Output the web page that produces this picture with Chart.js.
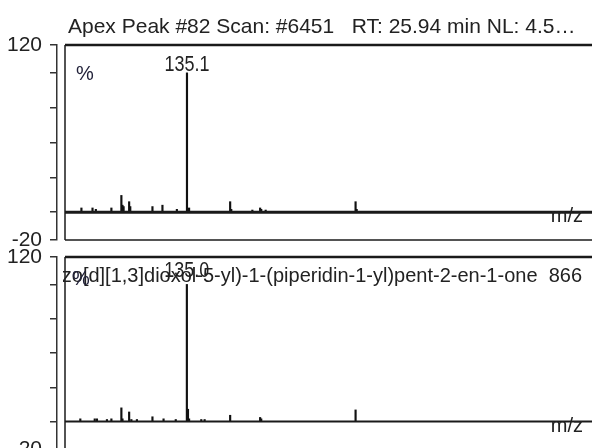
<!DOCTYPE html>
<html>
<head>
<meta charset="utf-8">
<script src="https://cdn.jsdelivr.net/npm/chart.js@4.4.1/dist/chart.umd.min.js"></script>
<style>
  html, body { margin: 0; padding: 0; background: #fff; overflow: hidden; }
  body { width: 592px; height: 448px; position: relative; }
  .panel { position: absolute; left: 0; width: 592px; }
  #top-panel { top: 0; }
  #bottom-panel { top: 246px; }
</style>
</head>
<body>
<div class="panel" id="top-panel"><canvas id="top-chart" width="592" height="250"></canvas></div>
<div class="panel" id="bottom-panel"><canvas id="bottom-chart" width="592" height="214"></canvas></div>
<script>
// Measured spectrum (top) and library spectrum (bottom)
const topMz = [40, 50, 53, 67, 76, 77, 78, 83, 84, 104, 113, 126, 135.1, 137, 174, 175, 194, 201, 202, 206, 287, 288];
const topIntensity = [3, 3, 2, 3, 12, 5, 4, 7.5, 4, 4, 5, 2, 100, 3, 7.5, 2, 1.5, 3, 2, 1.5, 7.5, 2];

const bottomMz = [39, 52, 54, 63, 67, 76, 77, 83, 85, 90, 104, 114, 125, 135.0, 136, 137, 148, 151, 174, 201, 202, 287];
const bottomIntensity = [2, 2, 2, 1.5, 2, 10, 2, 7, 1.5, 1.5, 3.5, 2, 1.5, 100, 9, 2, 1.5, 1.5, 4.6, 3, 2, 8.5];

const yTicks = [120, 100, 75, 50, 25, 0, -20];
const yLabels = [120, -20];

const topHeader = 'Apex Peak #82 Scan: #6451   RT: 25.94 min NL: 4.5…';
const bottomHeader = '5-(benzo[d][1,3]dioxol-5-yl)-1-(piperidin-1-yl)pent-2-en-1-one  866';
const topPeakLabel = '135.1';
const bottomPeakLabel = '135.0';

const FONT = '"Liberation Sans", Arial, sans-serif';
const INK = '#1a1a1a';

// Frame, baseline and annotations drawn on top of the bars
const decor = (cfg) => ({
  id: 'decor',
  afterDatasetsDraw(chart) {
    const { ctx, chartArea: a, scales: { x, y } } = chart;
    const left = a.left + 8;
    const yTop = y.getPixelForValue(120);
    const yBot = y.getPixelForValue(-20);
    const yZero = y.getPixelForValue(0);

    const line = (x1, y1, x2, y2, w) => {
      ctx.lineWidth = w;
      ctx.beginPath();
      ctx.moveTo(x1, y1);
      ctx.lineTo(x2, y2);
      ctx.stroke();
    };

    ctx.save();
    ctx.strokeStyle = INK;
    line(left, yTop, a.right, yTop, 2.5);
    line(left, yTop, left, yBot, 1.5);
    line(left, yBot, a.right, yBot, 1.5);
    line(left, yZero, a.right, yZero, cfg.baseWidth);

    ctx.fillStyle = '#222';
    ctx.textBaseline = 'alphabetic';

    // header
    ctx.save();
    ctx.beginPath();
    ctx.rect(left - 2, 0, a.right - left + 2, chart.height);
    ctx.clip();
    ctx.font = `${cfg.headerSize}px ${FONT}`;
    ctx.textAlign = cfg.headerAlign;
    if (cfg.headerAlign === 'left') {
      ctx.fillText(cfg.header, left + 3, yTop + cfg.headerDy, 512);
    } else {
      ctx.fillText(cfg.header, a.right - 10, yTop + cfg.headerDy);
    }
    ctx.restore();

    // percent sign
    ctx.font = `20px ${FONT}`;
    ctx.fillStyle = '#22223a';
    ctx.textAlign = 'left';
    ctx.fillText('%', left + cfg.pctDx, yTop + cfg.pctDy);

    // base peak label
    ctx.fillStyle = '#222';
    ctx.font = `22px ${FONT}`;
    ctx.textAlign = 'center';
    ctx.fillText(cfg.peakLabel, x.getPixelForValue(cfg.peakMz), y.getPixelForValue(100) - cfg.peakGap, 45);

    // axis name
    ctx.font = `20px ${FONT}`;
    ctx.textAlign = 'right';
    ctx.fillText('m/z', a.right - 9, yZero + 10);
    ctx.restore();
  },
});

const makeChart = (id, mz, intensity, pad, cfg) => {
  const canvas = document.getElementById(id);
  return new Chart(canvas, {
    type: 'bar',
    data: {
      datasets: [
        {
          data: mz.map((m, i) => ({ x: m, y: intensity[i] })),
          backgroundColor: '#111',
          borderWidth: 0,
          barThickness: 1.5,
        },
      ],
    },
    options: {
      responsive: false,
      animation: false,
      events: [],
      layout: { padding: { top: pad.top, bottom: pad.bottom, left: 0, right: 0 } },
      plugins: {
        legend: { display: false },
        tooltip: { enabled: false },
      },
      scales: {
        x: { type: 'linear', display: false, offset: false, min: 18, max: 500 },
        y: {
          min: -20,
          max: 120,
          afterBuildTicks: (s) => { s.ticks = yTicks.map((v) => ({ value: v })); },
          afterFit: (s) => {
            s.width = 57;
            s.paddingTop = 0;
            s.paddingBottom = 0;
          },
          border: { display: true, color: '#333', width: 1.5 },
          grid: { drawOnChartArea: false, drawTicks: true, tickLength: 7, color: '#333', lineWidth: 1.5 },
          ticks: {
            autoSkip: false,
            padding: 8,
            color: '#222',
            font: { family: FONT, size: 21 },
            callback: (v) => (yLabels.includes(v) ? String(v) : ''),
          },
        },
      },
    },
    plugins: [decor(cfg)],
  });
};

makeChart('top-chart', topMz, topIntensity, { top: 45, bottom: 10 }, {
  header: topHeader, headerSize: 21, headerAlign: 'left', headerDy: -12,
  pctDx: 11, pctDy: 35, peakLabel: topPeakLabel, peakMz: 135.1, peakGap: 2, baseWidth: 3,
});

makeChart('bottom-chart', bottomMz, bottomIntensity, { top: 11, bottom: 11 }, {
  header: bottomHeader, headerSize: 20, headerAlign: 'right', headerDy: 25,
  pctDx: 7, pctDy: 28, peakLabel: bottomPeakLabel, peakMz: 135.0, peakGap: 7, baseWidth: 2,
});
</script>
</body>
</html>
